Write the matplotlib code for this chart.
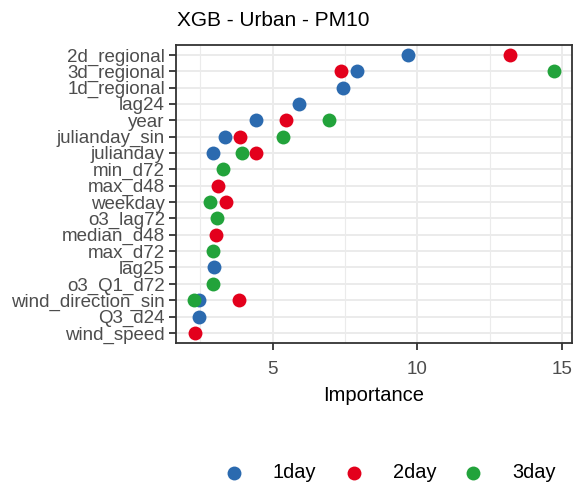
import matplotlib.pyplot as plt
from matplotlib.ticker import MultipleLocator

plt.rcParams['font.family'] = ['Liberation Sans', 'DejaVu Sans']

# features shown top to bottom
features = ['2d_regional', '3d_regional', '1d_regional', 'lag24', 'year',
            'julianday_sin', 'julianday', 'min_d72', 'max_d48', 'weekday',
            'o3_lag72', 'median_d48', 'max_d72', 'lag25', 'o3_Q1_d72',
            'wind_direction_sin', 'Q3_d24', 'wind_speed']

# top 10 importances per forecast horizon
day1_feats = ['2d_regional', '3d_regional', '1d_regional', 'lag24', 'year',
              'julianday_sin', 'julianday', 'lag25', 'wind_direction_sin', 'Q3_d24']
day1_vals = [9.68, 7.92, 7.43, 5.91, 4.44, 3.35, 2.93, 2.96, 2.45, 2.47]

day2_feats = ['2d_regional', '3d_regional', 'year', 'julianday_sin', 'julianday',
              'max_d48', 'weekday', 'median_d48', 'wind_direction_sin', 'wind_speed']
day2_vals = [13.22, 7.38, 5.47, 3.88, 4.44, 3.12, 3.39, 3.03, 3.84, 2.30]

day3_feats = ['3d_regional', 'year', 'julianday_sin', 'julianday', 'min_d72',
              'weekday', 'o3_lag72', 'max_d72', 'o3_Q1_d72', 'wind_direction_sin']
day3_vals = [14.73, 6.94, 5.36, 3.94, 3.28, 2.84, 3.06, 2.95, 2.93, 2.28]

series = [
    ('1day', day1_feats, day1_vals, '#2b6aaf'),
    ('2day', day2_feats, day2_vals, '#e3001c'),
    ('3day', day3_feats, day3_vals, '#22a33b'),
]

fig = plt.figure(figsize=(5.8, 4.92), dpi=100)
ax = fig.add_axes([176 / 580, 1 - 342.7 / 492, (572 - 176) / 580, (342.7 - 45) / 492])

ypos = {f: i for i, f in enumerate(features)}

for name, feats, vals, col in series:
    ax.scatter(vals, [ypos[f] for f in feats], s=100, color=col, label=name,
               linewidths=0, zorder=3)

# axes ranges like ggplot expansion
allvals = day1_vals + day2_vals + day3_vals
lo, hi = min(allvals), max(allvals)
pad = 0.05 * (hi - lo)
ax.set_xlim(lo - pad, hi + pad)
ax.set_ylim(len(features) - 1 + 0.6, -0.6)

ax.set_yticks(range(len(features)))
ax.set_yticklabels(features)
ax.xaxis.set_major_locator(MultipleLocator(5))
ax.xaxis.set_minor_locator(MultipleLocator(2.5))

ax.grid(True, which='major', color='#ebebeb', lw=1.4, zorder=0)
ax.grid(True, which='minor', axis='x', color='#ebebeb', lw=0.8, zorder=0)
ax.set_axisbelow(True)

for sp in ax.spines.values():
    sp.set_color('#333333')
    sp.set_linewidth(1.3)

ax.tick_params(axis='both', which='major', colors='#333333', width=1.3, length=5,
               labelsize=13.5, labelcolor='#4d4d4d', pad=3)
ax.tick_params(axis='x', which='major', pad=8)
ax.tick_params(axis='x', which='minor', length=0)

fig.text(374 / 580, 1 - 401 / 492, 'Importance', ha='center', va='baseline',
         fontsize=14.5, color='black')
fig.text(177 / 580, 1 - 25.7 / 492, 'XGB - Urban - PM10', ha='left', va='baseline',
         fontsize=15, color='black')

fig.legend(loc='center left', bbox_to_anchor=(214 / 580, 1 - 472.7 / 492), ncol=3,
           frameon=False, fontsize=14.4, handlelength=2.0, handletextpad=0.95,
           columnspacing=0.85, borderpad=0, borderaxespad=0, markerscale=1.0)

fig.savefig('out.png', dpi=100)
